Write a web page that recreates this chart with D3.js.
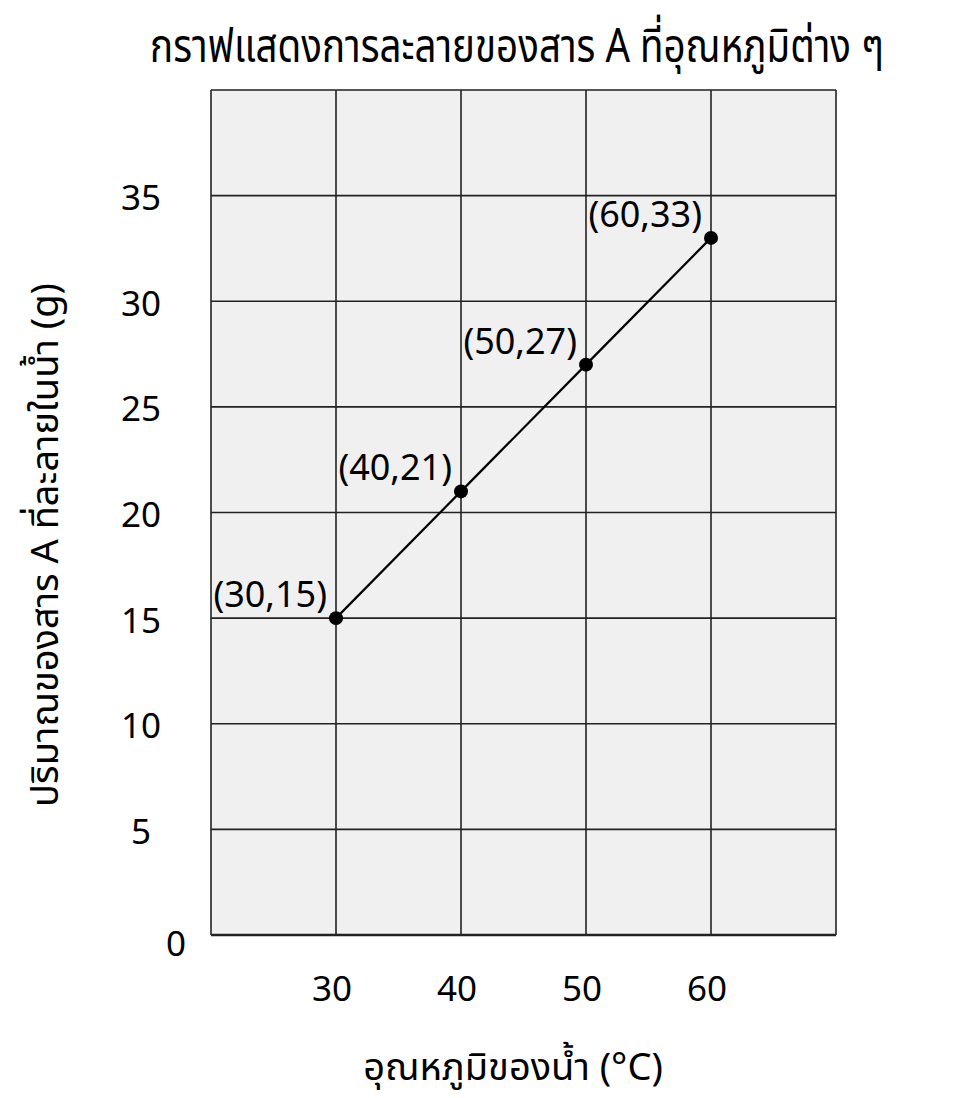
<!doctype html>
<html>
<head>
<meta charset="utf-8">
<title>กราฟแสดงการละลายของสาร A</title>
<style>
* {padding:0;margin:0}
body {background:#fff}
text {font-family: "Noto Sans", "Noto Sans Thai", sans-serif; fill:#000}
</style>
</head>
<body>
<div id="chart"></div>
<script src="https://d3js.org/d3.v7.min.js"></script>
<script>
	// ข้อมูล
	const temps = [30, 40, 50, 60];
	const amounts = [15, 21, 27, 33];
	const xTicks = [30, 40, 50, 60];
	const yTicks = [0, 5, 10, 15, 20, 25, 30, 35];
	const titleText = "กราฟแสดงการละลายของสาร A ที่อุณหภูมิต่าง ๆ";
	const xTitle = "อุณหภูมิของน้ำ (°C)";
	const yTitle = "ปริมาณของสาร A ที่ละลายในน้ำ (g)";

	const W = 964, H = 1098;
	const margin = {top: 90, right: 128, bottom: 163, left: 211};
	const width = W - margin.left - margin.right;
	const height = H - margin.top - margin.bottom;

	const x = d3.scaleLinear().domain([20, 70]).range([0, width]);
	const y = d3.scaleLinear().domain([0, 40]).range([height, 0]);

	const root = d3.select("#chart").append("svg")
		.attr("width", W)
		.attr("height", H);

	// หัวเรื่อง (ฟอนต์แคบ สูง)
	root.append("text")
		.attr("transform", "translate(517,62) scale(0.82,1)")
		.attr("text-anchor", "middle")
		.style("font-size", "47px")
		.text(titleText);

	const svg = root.append("g")
		.attr("transform", "translate(" + margin.left + "," + margin.top + ")");

	svg.append("rect")
		.attr("width", width)
		.attr("height", height)
		.attr("fill", "#f0f0f0");

	// เส้นตาราง
	svg.selectAll(".vgrid").data(d3.range(20, 71, 10)).enter()
		.append("line")
		.attr("stroke", "#222")
		.attr("stroke-width", 1.6)
		.attr("x1", d => x(d)).attr("x2", d => x(d))
		.attr("y1", 0).attr("y2", height);

	svg.selectAll(".hgrid").data(d3.range(0, 41, 5)).enter()
		.append("line")
		.attr("stroke", "#222")
		.attr("stroke-width", d => d === 0 ? 2.5 : 1.6)
		.attr("x1", 0).attr("x2", width)
		.attr("y1", d => y(d)).attr("y2", d => y(d));

	// ป้ายแกน y
	svg.selectAll(".ytick").data(yTicks).enter()
		.append("text")
		.attr("x", d => d === 0 ? -35 : -70)
		.attr("y", d => y(d) + 2)
		.attr("dy", d => d === 0 ? "0.55em" : "0.36em")
		.attr("text-anchor", "middle")
		.style("font-size", "35px")
		.text(d => d);

	// ป้ายแกน x
	svg.selectAll(".xtick").data(xTicks).enter()
		.append("text")
		.attr("x", d => x(d) - 4)
		.attr("y", height + 66)
		.attr("text-anchor", "middle")
		.style("font-size", "35px")
		.text(d => d);

	const pts = temps.map((t, i) => ({t: t, v: amounts[i]}));

	svg.append("path")
		.datum(pts)
		.attr("fill", "none")
		.attr("stroke", "#000")
		.attr("stroke-width", 2.2)
		.attr("d", d3.line().x(d => x(d.t)).y(d => y(d.v)));

	svg.selectAll("circle").data(pts).enter()
		.append("circle")
		.attr("cx", d => x(d.t))
		.attr("cy", d => y(d.v))
		.attr("r", 7)
		.attr("fill", "#000");

	svg.selectAll(".lbl").data(pts).enter()
		.append("text")
		.attr("x", d => x(d.t) - 9)
		.attr("y", d => y(d.v) - 11)
		.attr("text-anchor", "end")
		.style("font-size", "36px")
		.text(d => "(" + d.t + "," + d.v + ")");

	root.append("text")
		.attr("x", 513)
		.attr("y", 1080)
		.attr("text-anchor", "middle")
		.style("font-size", "38px")
		.text(xTitle);

	root.append("text")
		.attr("transform", "translate(58,545) rotate(-90)")
		.attr("text-anchor", "middle")
		.style("font-size", "38px")
		.text(yTitle);
</script>
</body>
</html>
